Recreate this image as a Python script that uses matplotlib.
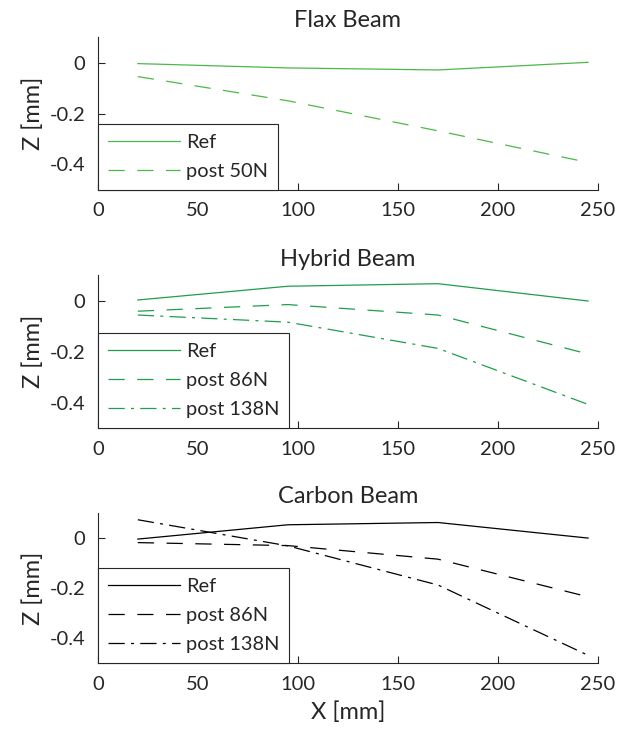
import numpy as np
import matplotlib.pyplot as plt

plt.rcParams['font.family'] = ['Lato', 'DejaVu Sans']

# X positions of the measuring points [mm]
x = [20, 95, 170, 245]

# Flax beam
flax_ref = [-0.004, -0.021, -0.029, 0.001]
flax_50 = [-0.055, -0.150, -0.268, -0.392]

# Hybrid beam
hyb_ref = [0.003, 0.057, 0.067, -0.001]
hyb_86 = [-0.041, -0.015, -0.056, -0.209]
hyb_138 = [-0.056, -0.084, -0.187, -0.407]

# Carbon beam
carb_ref = [-0.005, 0.052, 0.061, -0.001]
carb_86 = [-0.019, -0.031, -0.085, -0.235]
carb_138 = [0.072, -0.032, -0.188, -0.468]

flax_col = '#4db848'
hyb_col = '#1f9e4c'
carb_col = 'black'
txt_col = '#262626'

dashed = (0, (13, 10))
dashdot = (0, (13, 5, 2.4, 5))

fig = plt.figure(figsize=(6.23, 7.42), dpi=100)

positions = [
    [0.157, 0.744, 0.803, 0.206],
    [0.157, 0.423, 0.803, 0.206],
    [0.157, 0.106, 0.803, 0.203],
]

panels = [
    ('Flax Beam', flax_col, [(flax_ref, '-', 'Ref'), (flax_50, dashed, 'post 50N')]),
    ('Hybrid Beam', hyb_col, [(hyb_ref, '-', 'Ref'), (hyb_86, dashed, 'post 86N'),
                               (hyb_138, dashdot, 'post 138N')]),
    ('Carbon Beam', carb_col, [(carb_ref, '-', 'Ref'), (carb_86, dashed, 'post 86N'),
                                (carb_138, dashdot, 'post 138N')]),
]

for i, (title, col, series) in enumerate(panels):
    ax = fig.add_axes(positions[i])
    for vals, ls, lab in series:
        ax.plot(x, vals, color=col, linestyle=ls, linewidth=0.9, label=lab)
    ax.set_xlim(0, 250)
    ax.set_ylim(-0.5, 0.1)
    ax.set_xticks([0, 50, 100, 150, 200, 250])
    ax.set_yticks([-0.4, -0.2, 0])
    ax.set_yticklabels(['-0.4', '-0.2', '0'])
    ax.spines['top'].set_visible(False)
    ax.spines['right'].set_visible(False)
    for s in ['left', 'bottom']:
        ax.spines[s].set_color(txt_col)
        ax.spines[s].set_linewidth(0.8)
    ax.tick_params(direction='in', length=5, width=0.8, colors=txt_col,
                   labelsize=14.5, pad=9)
    ax.set_title(title, fontsize=17, color=txt_col, pad=7)
    ax.set_ylabel('Z [mm]', fontsize=17, color=txt_col, labelpad=4)
    leg = ax.legend(loc='lower left', bbox_to_anchor=(0, 0), borderaxespad=0,
                    fontsize=14.4, handlelength=3.6, handletextpad=0.3,
                    labelspacing=0.6, borderpad=0.5, fancybox=False, framealpha=1)
    leg.get_frame().set_edgecolor(txt_col)
    leg.get_frame().set_linewidth(0.8)
    for t in leg.get_texts():
        t.set_color(txt_col)
    if i == 2:
        ax.set_xlabel('X [mm]', fontsize=17, color=txt_col, labelpad=6)

fig.savefig('out.png', dpi=100)
